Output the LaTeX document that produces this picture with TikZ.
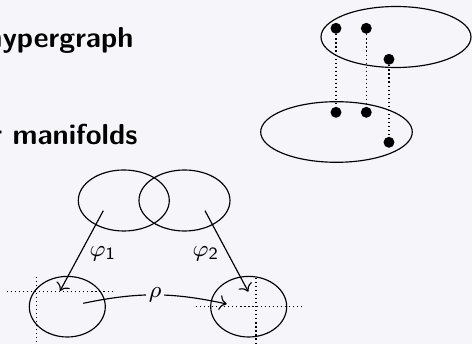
\documentclass[tikz,border=0pt]{standalone}
\usepackage{tikz}
\usetikzlibrary{arrows.meta, positioning, calc, shapes.geometric}

\definecolor{slidebg}{RGB}{245,245,250}
\newcommand\pxu{0.3472pt}

\tikzset{
  blob/.style={draw, ellipse, inner sep=0pt, outer sep=0pt},
  vtx/.style={circle, fill=black, inner sep=0pt, minimum size=3.8pt},
  lbl/.style={font=\footnotesize},
  heading/.style={font=\sffamily\bfseries, inner sep=0pt},
}

\begin{document}
\begin{tikzpicture}[x=\pxu, y=-\pxu]
    \fill[slidebg] (0,0) rectangle (472,344);
    \useasboundingbox (0,0) rectangle (472,344);

    % Headings (cut at the left edge)
    \node[heading, anchor=base east] (hyp) at (134,47.5) {hypergraph};
    \node[heading, anchor=base east] (mfd) at (138,144.3) {r manifolds};

    % Hypergraph: two hyperedges
    \node[blob, minimum width=150*\pxu, minimum height=61*\pxu] (upper) at (396,37) {};
    \node[blob, minimum width=151.6*\pxu, minimum height=60.6*\pxu] (lower) at (336.5,132) {};
    \foreach \n/\x/\y in {1/336/28.3, 2/366.3/28.3, 3/389/59.3}
        \node[vtx] (a\n) at (\x,\y) {};
    \foreach \n/\x/\y in {1/336/112.3, 2/366.3/112.3, 3/389/142.3}
        \node[vtx] (b\n) at (\x,\y) {};
    \foreach \n in {1,2,3}
        \draw[densely dotted] (a\n) -- (b\n);

    % Manifold charts
    \node[blob, minimum width=91*\pxu, minimum height=61*\pxu] (U1) at (123.8,200.5) {};
    \node[blob, minimum width=91*\pxu, minimum height=61*\pxu] (U2) at (184.5,200.5) {};
    \node[blob, minimum width=76*\pxu, minimum height=60.6*\pxu] (V1) at (67.3,306.7) {};
    \node[blob, minimum width=76*\pxu, minimum height=60.6*\pxu] (V2) at (248.7,306.7) {};

    % Axes in the images
    \draw[densely dotted] (6.7,291.7) -- (113.3,291.7);
    \draw[densely dotted] (36.7,276.7) -- (36.7,350);
    \draw[densely dotted] (196,306.7) -- (301.7,306.7);
    \draw[densely dotted] (256,278) -- (256,350);

    % Chart maps
    \coordinate (s1) at (103.3,210.7);
    \coordinate (e1) at (60,291);
    \coordinate (s2) at (205,210.7);
    \coordinate (e2) at (248.3,291.7);
    \coordinate (rs) at (83.3,303.3);
    \coordinate (re) at (226.7,304);
    \draw[->] (s1) -- (e1);
    \draw[->] (s2) -- (e2);
    \node[lbl] (phi1) at (103,253.5) {$\varphi_{\mathsf{1}}$};
    \node[lbl] (phi2) at (206,253.5) {$\varphi_{\mathsf{2}}$};
    \draw[->] (rs) to[bend left=12] node[lbl, fill=slidebg, inner sep=1pt] (rho) {$\rho$} (re);
\end{tikzpicture}
\end{document}
